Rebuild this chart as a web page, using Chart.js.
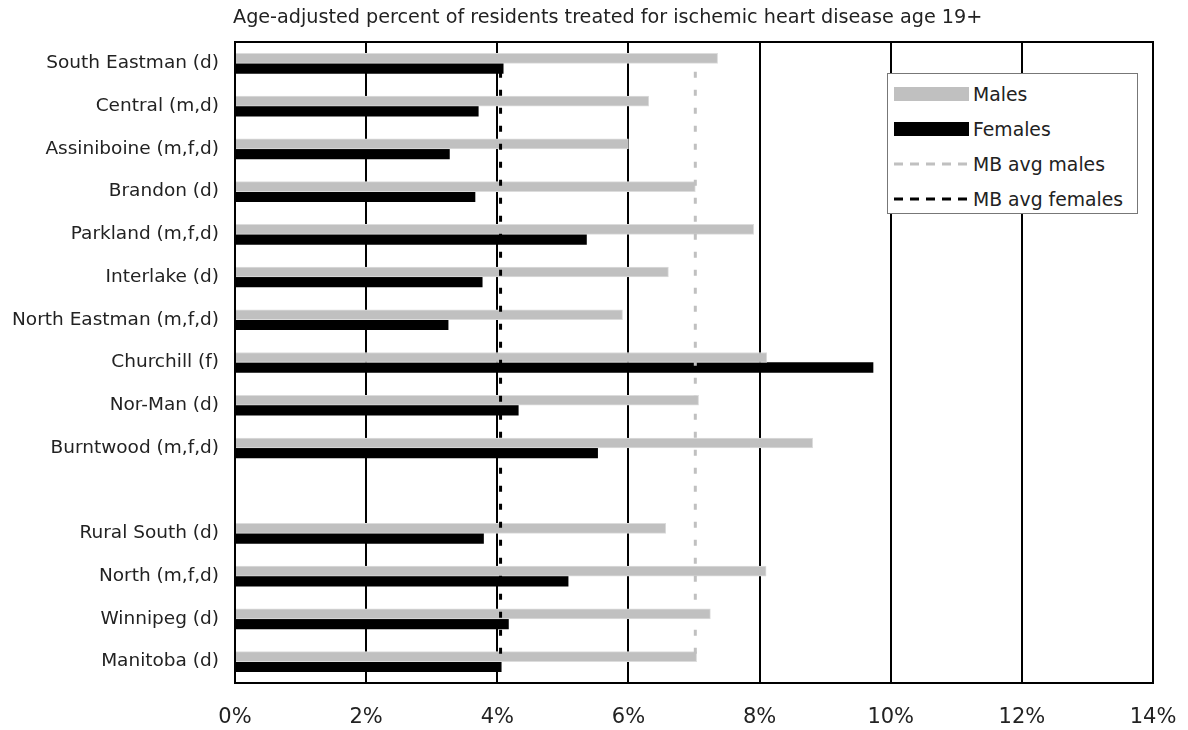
<!DOCTYPE html>
<html>
<head>
<meta charset="utf-8">
<script src="https://cdn.jsdelivr.net/npm/chart.js@4.4.1/dist/chart.umd.min.js"></script>
<style>
  html,body{margin:0;padding:0;background:#fff;}
  #wrap{position:relative;width:1188px;height:730px;}
  #subtitle{position:absolute;left:233px;top:5px;width:760px;font-family:"DejaVu Sans",sans-serif;font-size:19.2px;
    color:#222;white-space:nowrap;line-height:24px;}
  #legend{position:absolute;left:887px;top:73px;width:251px;height:141px;border:1px solid #777;background:#fff;
    font-family:"DejaVu Sans",sans-serif;font-size:18.8px;color:#222;box-sizing:border-box;}
  #legend .row{position:absolute;left:6px;height:20px;display:flex;align-items:center;white-space:nowrap;}
  #legend .row svg{margin-right:3px;}
</style>
</head>
<body>
<div id="wrap">
  <canvas id="c" width="1188" height="730"></canvas>
  <div id="subtitle">Age-adjusted percent of residents treated for ischemic heart disease age 19+</div>
  <div id="legend"></div>
</div>
<script>
(function(){
  const regions = ['South Eastman (d)','Central (m,d)','Assiniboine (m,f,d)','Brandon (d)','Parkland (m,f,d)',
    'Interlake (d)','North Eastman (m,f,d)','Churchill (f)','Nor-Man (d)','Burntwood (m,f,d)','',
    'Rural South (d)','North (m,f,d)','Winnipeg (d)','Manitoba (d)'];
  const males   = [7.36,6.31,6.00,7.02,7.91,6.61,5.91,8.11,7.07,8.81,null,6.57,8.10,7.25,7.04];
  const females = [4.09,3.71,3.27,3.66,5.36,3.77,3.25,9.73,4.32,5.53,null,3.79,5.08,4.17,4.06];
  const avgMales = 7.02;
  const avgFemales = 4.05;
  const xTicks = [0,2,4,6,8,10,12,14];

  const FONT = '"DejaVu Sans", sans-serif';

  // frame around the plot area
  const frame = {
    id:'frame',
    afterDraw(chart){
      const a = chart.chartArea, ctx = chart.ctx;
      ctx.save();
      ctx.strokeStyle = '#000'; ctx.lineWidth = 2;
      ctx.strokeRect(a.left, a.top, a.right-a.left, a.bottom-a.top);
      ctx.restore();
    }
  };

  new Chart(document.getElementById('c'), {
    type:'bar',
    data:{
      labels: regions,
      datasets:[
        {type:'scatter', label:'MB avg females', data:[{x:avgFemales,y:0},{x:avgFemales,y:1}], yAxisID:'yv',
          showLine:true, borderColor:'#000', borderWidth:3, borderDash:[6,12], pointRadius:0, order:0},
        {type:'scatter', label:'MB avg males', data:[{x:avgMales,y:0},{x:avgMales,y:1}], yAxisID:'yv',
          showLine:true, borderColor:'#c0c0c0', borderWidth:3, borderDash:[6,12], pointRadius:0, order:1},
        {label:'Males', data:males, backgroundColor:'#c0c0c0', borderColor:'#dcdcdc', borderWidth:1, barThickness:10, order:2},
        {label:'Females', data:females, backgroundColor:'#000', barThickness:10, order:3}
      ]
    },
    options:{
      indexAxis:'y',
      responsive:false,
      animation:false,
      layout:{padding:{left:0,right:35,top:42,bottom:0}},
      scales:{
        x:{
          min:0, max:14,
          afterBuildTicks(s){ s.ticks = xTicks.map(v=>({value:v})); },
          afterFit(s){ s.height = 47; s.paddingLeft = 0; s.paddingRight = 0; },
          ticks:{callback:v=>v+'%', color:'#222', font:{family:FONT,size:21}, padding:22},
          grid:{color:'#000', lineWidth:2, drawTicks:false},
          border:{color:'#000', width:2}
        },
        y:{
          afterFit(s){ s.width = 235; },
          ticks:{color:'#222', font:{family:FONT,size:18.5}, padding:16, autoSkip:false},
          grid:{display:false, drawTicks:false},
          border:{color:'#000', width:2}
        },
        yv:{type:'linear', min:0, max:1, display:false}
      },
      plugins:{
        legend:{display:false},
        tooltip:{enabled:false},
        title:{display:false}
      }
    },
    plugins:[frame]
  });

  // legend overlay
  const legendItems = [
    {label:'Males', kind:'box', color:'#c0c0c0'},
    {label:'Females', kind:'box', color:'#000'},
    {label:'MB avg males', kind:'dash', color:'#c0c0c0'},
    {label:'MB avg females', kind:'dash', color:'#000'}
  ];
  const leg = document.getElementById('legend');
  legendItems.forEach((it,i)=>{
    const row = document.createElement('div');
    row.className = 'row';
    row.style.top = (10 + i*35) + 'px';
    const sw = it.kind==='box'
      ? `<svg width="76" height="16"><rect x="0" y="1" width="75" height="14" fill="${it.color}"/></svg>`
      : `<svg width="76" height="16"><line x1="0" y1="8" x2="76" y2="8" stroke="${it.color}" stroke-width="3" stroke-dasharray="9,7"/></svg>`;
    row.innerHTML = sw + '<span>' + it.label + '</span>';
    leg.appendChild(row);
  });
})();
</script>
</body>
</html>
